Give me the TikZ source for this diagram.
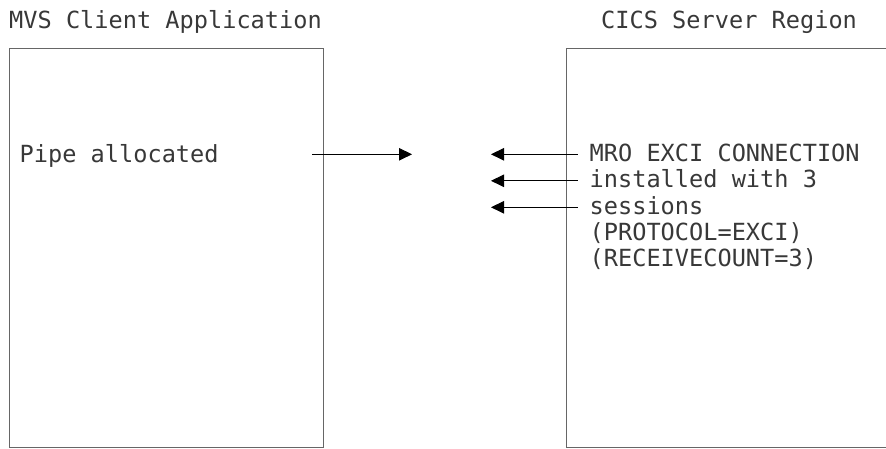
\documentclass[tikz,border=0pt]{standalone}
\usepackage{fontspec}
\setmonofont{DejaVu Sans Mono}
\usetikzlibrary{positioning, arrows.meta}
\definecolor{boxgray}{gray}{0.4}
\definecolor{txtgray}{gray}{0.22}

\begin{document}
\begin{tikzpicture}[x=1pt, y=-1pt, >={Triangle[length=13pt,width=12.5pt]}]
\tikzset{
  txt/.style={anchor=base west, inner sep=0pt, text=txtgray, font=\ttfamily\fontsize{23.6}{26.3}\selectfont},
  line/.style={txt, text height=13.4pt, text depth=0pt, inner xsep=12pt},
  region/.style={draw=boxgray, line width=1.2pt, anchor=north west, inner sep=0pt},
  arr/.style={->, line width=0.9pt}
}
\def\boxtop{48}
\def\boxheight{399pt}
\useasboundingbox (0,0) rectangle (886,448);

%Titles
\node (mvs) [txt] at (9,28) {MVS Client Application};
\node (cics) [txt] at (601,28) {CICS Server Region};

%Regions
\node (client) [region, minimum width=313.5pt, minimum height=\boxheight] at (9,\boxtop) {};
\node (server) [region, minimum width=340pt, minimum height=\boxheight] at (565.5,\boxtop) {};

%Client side
\node (pipe) [txt] at (19.5,162) {Pipe allocated};
\coordinate (pipeout) at (312,154.3);
\coordinate (pipetip) at (412,154.3);
\draw [arr] (pipeout) -- (pipetip);

%Server side
\node (l1) [line] at (577.5,161) {MRO EXCI CONNECTION};
\node (l2) [line] at (577.5,187.5) {installed with 3};
\node (l3) [line] at (577.5,214) {sessions};
\node (l4) [txt] at (589.5,240.3) {(PROTOCOL=EXCI)};
\node (l5) [txt] at (589.5,266.6) {(RECEIVECOUNT=3)};

\coordinate (lefttip) at (491,0);
\draw [arr] (l1.west) -- (l1.west -| lefttip);
\draw [arr] (l2.west) -- (l2.west -| lefttip);
\draw [arr] (l3.west) -- (l3.west -| lefttip);

\end{tikzpicture}
\end{document}
